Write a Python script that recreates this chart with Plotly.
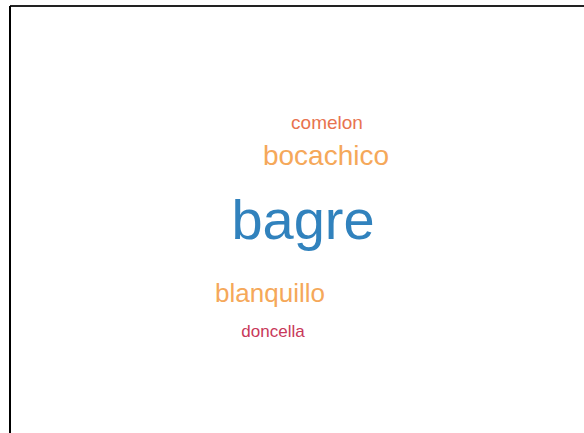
import plotly.graph_objects as go

# word frequencies for the cloud
words = ['bagre', 'bocachico', 'blanquillo', 'comelon', 'doncella']
counts = [56, 28, 26, 19, 17]

# layout of the cloud (pixel-like coordinates, y downward) and colours
pos_x = [303, 326, 270, 327, 273]
pos_y = [225, 158, 295, 124, 333]
colors = ['#3182bd', '#f5a85a', '#f5a85a', '#e8734f', '#c8385a']

fig = go.Figure()
fig.add_trace(go.Scatter(
    x=pos_x, y=pos_y, text=words, mode='text',
    textposition='middle center',
    textfont=dict(family='Liberation Sans, Arial', size=counts, color=colors),
    hoverinfo='text', showlegend=False,
))

fig.update_xaxes(range=[0, 584], visible=False)
fig.update_yaxes(range=[433, 0], visible=False)

# frame lines (top and left)
fig.add_shape(type='line', xref='paper', yref='paper', x0=10/584, x1=1, y0=1-6/433, y1=1-6/433,
              line=dict(color='#222222', width=2))
fig.add_shape(type='line', xref='paper', yref='paper', x0=10/584, x1=10/584, y0=0, y1=1-6/433,
              line=dict(color='black', width=2))

fig.update_layout(width=584, height=433, margin=dict(l=0, r=0, t=0, b=0),
                  plot_bgcolor='white', paper_bgcolor='white')
fig.write_html("out.html", config={'displayModeBar': False},
               post_script="document.body.style.margin='0';")
